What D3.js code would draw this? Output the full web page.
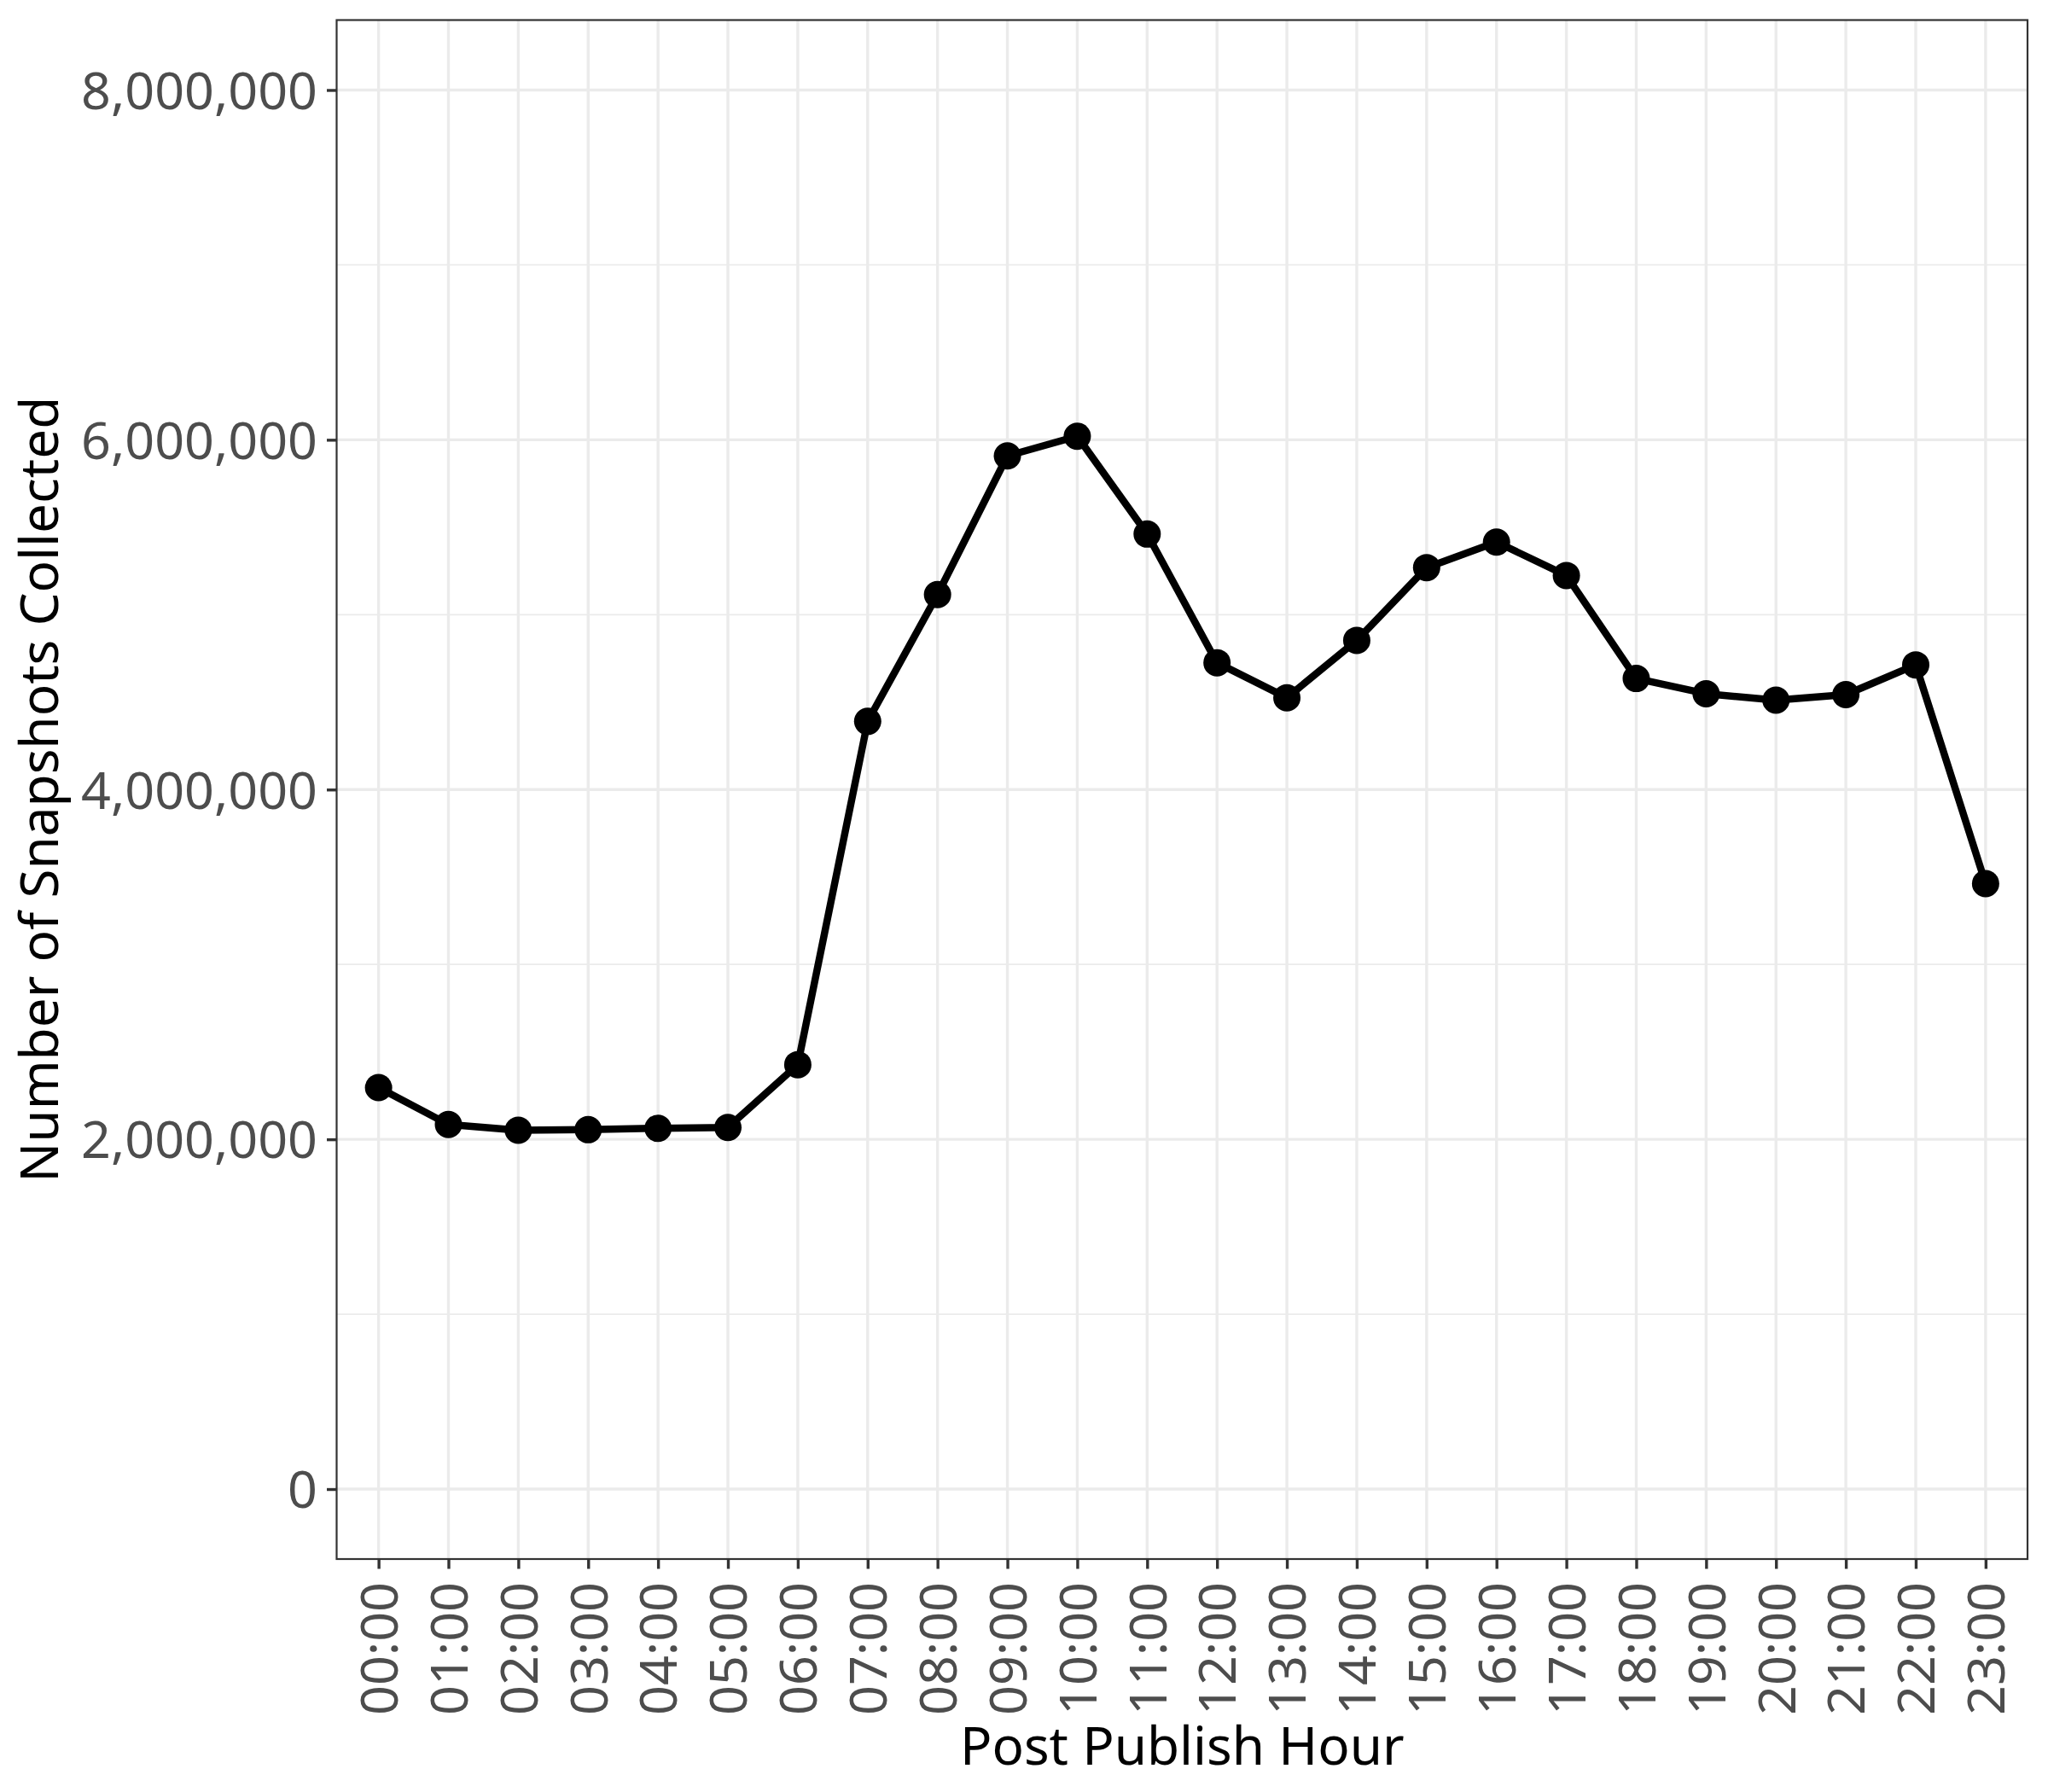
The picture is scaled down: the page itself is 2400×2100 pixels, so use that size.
<!DOCTYPE html>
<html>
<head>
<meta charset="utf-8">
<script src="https://cdn.jsdelivr.net/npm/d3@7"></script>
<style>
  html, body { margin: 0; padding: 0; background: #ffffff; }
  svg { display: block; }
</style>
</head>
<body>
<script>
// ---- data ----
const hours = ["00:00","01:00","02:00","03:00","04:00","05:00","06:00","07:00","08:00","09:00","10:00","11:00",
               "12:00","13:00","14:00","15:00","16:00","17:00","18:00","19:00","20:00","21:00","22:00","23:00"];
const snapshots = [2296000, 2085000, 2052000, 2055000, 2063000, 2068000, 2427000, 4390000, 5115000, 5908000, 6020000, 5461000,
                   4725000, 4525000, 4853000, 5269000, 5415000, 5224000, 4635000, 4548000, 4511000, 4543000, 4713000, 3462000];
const yTicks = [0, 2000000, 4000000, 6000000, 8000000];
const yMinor = [1000000, 3000000, 5000000, 7000000];
const xTitle = "Post Publish Hour";
const yTitle = "Number of Snapshots Collected";

// ---- layout ----
const W = 2400, H = 2100;
const panel = { left: 394.5, right: 2376, top: 23.5, bottom: 1827 };
const font = "'Noto Sans', 'Open Sans', sans-serif";
const tickFs = 61, titleFs = 62;

const svg = d3.select("body").append("svg").attr("width", W).attr("height", H);
svg.append("rect").attr("width", W).attr("height", H).attr("fill", "#ffffff");

const x = d3.scalePoint().domain(hours).range([panel.left, panel.right]).padding(0.6);
const y = d3.scaleLinear().domain([-400000, 8400000]).range([panel.bottom, panel.top]);

// grid
const grid = svg.append("g");
grid.selectAll("line.minor").data(yMinor).join("line")
  .attr("x1", panel.left).attr("x2", panel.right)
  .attr("y1", d => y(d)).attr("y2", d => y(d))
  .attr("stroke", "#EBEBEB").attr("stroke-width", 1.8);
grid.selectAll("line.majory").data(yTicks).join("line")
  .attr("x1", panel.left).attr("x2", panel.right)
  .attr("y1", d => y(d)).attr("y2", d => y(d))
  .attr("stroke", "#EBEBEB").attr("stroke-width", 3.4);
grid.selectAll("line.majorx").data(hours).join("line")
  .attr("x1", d => x(d)).attr("x2", d => x(d))
  .attr("y1", panel.top).attr("y2", panel.bottom)
  .attr("stroke", "#EBEBEB").attr("stroke-width", 3.4);

// data line + points
const pts = hours.map((h, i) => ({ h, v: snapshots[i] }));
const line = d3.line().x(d => x(d.h)).y(d => y(d.v));
svg.append("path").datum(pts)
  .attr("d", line)
  .attr("fill", "none").attr("stroke", "#000000")
  .attr("stroke-width", 8.5).attr("stroke-linejoin", "round").attr("stroke-linecap", "butt");
svg.append("g").selectAll("circle").data(pts).join("circle")
  .attr("cx", d => x(d.h)).attr("cy", d => y(d.v)).attr("r", 16)
  .attr("fill", "#000000");

// panel border
svg.append("rect")
  .attr("x", panel.left).attr("y", panel.top)
  .attr("width", panel.right - panel.left).attr("height", panel.bottom - panel.top)
  .attr("fill", "none").attr("stroke", "#333333").attr("stroke-width", 2.2);

// y axis
const yAxis = d3.axisLeft(y).tickValues(yTicks).tickSize(11.5).tickPadding(11)
  .tickFormat(d3.format(","));
const gy = svg.append("g").attr("transform", `translate(${panel.left},0)`).call(yAxis);
gy.select(".domain").remove();
gy.selectAll(".tick line").attr("stroke", "#333333").attr("stroke-width", 3.4);
gy.selectAll(".tick text")
  .attr("fill", "#4D4D4D").attr("font-family", font).attr("font-size", tickFs)
  .attr("dy", null).attr("y", tickFs * 0.357);

// x axis
const xAxis = d3.axisBottom(x).tickSize(11.5).tickPadding(0);
const gx = svg.append("g").attr("transform", `translate(0,${panel.bottom})`).call(xAxis);
gx.select(".domain").remove();
gx.selectAll(".tick line").attr("stroke", "#333333").attr("stroke-width", 3.4);
gx.selectAll(".tick text")
  .attr("fill", "#4D4D4D").attr("font-family", font).attr("font-size", tickFs)
  .attr("dy", null).attr("x", null).attr("y", null)
  .attr("text-anchor", "end")
  .attr("transform", `translate(${tickFs * 0.357},${1854 - panel.bottom}) rotate(-90)`);

// titles
svg.append("text")
  .attr("x", (panel.left + panel.right) / 2).attr("y", 2068)
  .attr("text-anchor", "middle")
  .attr("font-family", font).attr("font-size", titleFs).attr("fill", "#000000")
  .text(xTitle);
svg.append("text")
  .attr("transform", `translate(68,${(panel.top + panel.bottom) / 2}) rotate(-90)`)
  .attr("text-anchor", "middle")
  .attr("font-family", font).attr("font-size", titleFs).attr("fill", "#000000")
  .text(yTitle);
</script>
</body>
</html>
